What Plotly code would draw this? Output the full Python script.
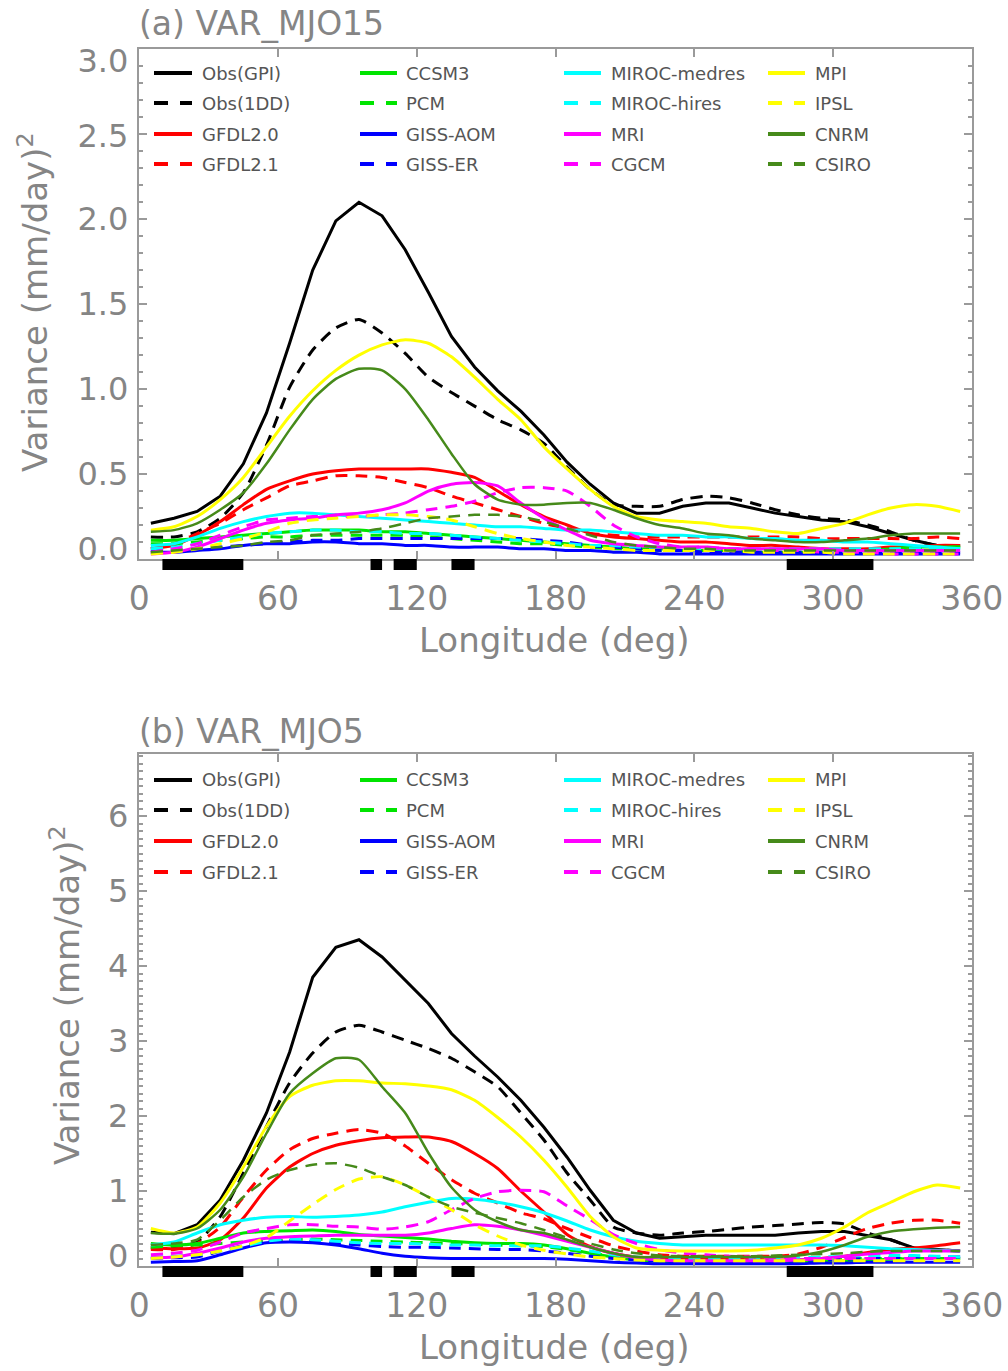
import plotly.graph_objects as go

# ---------------- data ----------------
lon = [5, 15, 25, 35, 45, 55, 65, 75, 85, 95, 105, 115, 125, 135, 145, 155, 165, 175,
       185, 195, 205, 215, 225, 235, 245, 255, 265, 275, 285, 295, 305, 315, 325, 335, 345, 355]

# land bands marked under the longitude axis (deg)
land_start = [10, 100, 110, 135, 280]
land_end = [45, 105, 120, 145, 317.5]

x_ticks = [0, 60, 120, 180, 240, 300, 360]

# (a) VAR_MJO15
a_obs_gpi = [0.21, 0.24, 0.28, 0.37, 0.56, 0.86, 1.27, 1.70, 1.99, 2.10, 2.02, 1.82, 1.57, 1.31, 1.13, 0.99, 0.87, 0.73,
             0.57, 0.44, 0.33, 0.27, 0.27, 0.31, 0.33, 0.33, 0.30, 0.27, 0.25, 0.23, 0.22, 0.19, 0.15, 0.11, 0.08, 0.08]
a_obs_1dd = [0.13, 0.13, 0.16, 0.24, 0.39, 0.67, 1.01, 1.23, 1.36, 1.41, 1.33, 1.21, 1.07, 0.98, 0.90, 0.82, 0.76, 0.68,
             0.54, 0.41, 0.32, 0.31, 0.31, 0.35, 0.37, 0.36, 0.33, 0.29, 0.26, 0.24, 0.23, 0.20, 0.16, 0.11, 0.08, 0.08]
a_gfdl20 = [0.06, 0.08, 0.14, 0.22, 0.32, 0.41, 0.46, 0.50, 0.52, 0.53, 0.53, 0.53, 0.53, 0.51, 0.48, 0.40, 0.32, 0.25,
            0.20, 0.15, 0.13, 0.12, 0.11, 0.10, 0.10, 0.09, 0.08, 0.08, 0.07, 0.06, 0.06, 0.06, 0.07, 0.07, 0.08, 0.08]
a_gfdl21 = [0.06, 0.09, 0.15, 0.21, 0.29, 0.36, 0.43, 0.46, 0.49, 0.49, 0.48, 0.45, 0.42, 0.37, 0.33, 0.29, 0.25, 0.21,
            0.18, 0.15, 0.14, 0.13, 0.13, 0.13, 0.13, 0.13, 0.13, 0.13, 0.13, 0.12, 0.12, 0.12, 0.12, 0.12, 0.13, 0.12]
a_ccsm3 = [0.11, 0.11, 0.12, 0.13, 0.14, 0.15, 0.16, 0.17, 0.17, 0.17, 0.16, 0.16, 0.15, 0.14, 0.13, 0.12, 0.11, 0.10,
           0.09, 0.08, 0.07, 0.06, 0.06, 0.05, 0.05, 0.05, 0.04, 0.04, 0.04, 0.04, 0.05, 0.05, 0.06, 0.07, 0.07, 0.07]
a_pcm = [0.09, 0.09, 0.10, 0.11, 0.12, 0.13, 0.13, 0.14, 0.14, 0.14, 0.14, 0.14, 0.13, 0.12, 0.11, 0.10, 0.09, 0.09,
         0.08, 0.07, 0.06, 0.06, 0.05, 0.05, 0.05, 0.04, 0.04, 0.04, 0.04, 0.04, 0.04, 0.04, 0.05, 0.06, 0.07, 0.07]
a_giss_aom = [0.04, 0.04, 0.05, 0.06, 0.08, 0.09, 0.09, 0.10, 0.10, 0.09, 0.09, 0.08, 0.08, 0.07, 0.07, 0.07, 0.06, 0.06,
              0.05, 0.05, 0.04, 0.04, 0.03, 0.03, 0.03, 0.03, 0.03, 0.03, 0.03, 0.03, 0.03, 0.03, 0.03, 0.03, 0.03, 0.03]
a_giss_er = [0.05, 0.05, 0.06, 0.07, 0.08, 0.09, 0.10, 0.11, 0.11, 0.12, 0.12, 0.12, 0.12, 0.12, 0.12, 0.12, 0.12, 0.11,
             0.10, 0.08, 0.07, 0.06, 0.05, 0.05, 0.04, 0.04, 0.04, 0.04, 0.04, 0.04, 0.04, 0.04, 0.04, 0.04, 0.04, 0.04]
a_miroc_med = [0.08, 0.09, 0.13, 0.18, 0.22, 0.25, 0.27, 0.27, 0.26, 0.25, 0.24, 0.23, 0.22, 0.21, 0.20, 0.19, 0.19, 0.18,
               0.17, 0.17, 0.16, 0.15, 0.14, 0.14, 0.13, 0.13, 0.12, 0.12, 0.11, 0.11, 0.10, 0.10, 0.09, 0.08, 0.07, 0.06]
a_miroc_hi = [0.06, 0.07, 0.09, 0.11, 0.13, 0.15, 0.16, 0.17, 0.17, 0.16, 0.16, 0.15, 0.15, 0.14, 0.13, 0.12, 0.11, 0.10,
              0.09, 0.08, 0.08, 0.07, 0.07, 0.07, 0.06, 0.06, 0.06, 0.06, 0.06, 0.06, 0.06, 0.06, 0.06, 0.06, 0.06, 0.06]
a_mri = [0.03, 0.04, 0.07, 0.12, 0.17, 0.21, 0.23, 0.24, 0.26, 0.27, 0.29, 0.33, 0.40, 0.44, 0.45, 0.43, 0.33, 0.24,
         0.17, 0.11, 0.09, 0.08, 0.07, 0.07, 0.07, 0.06, 0.06, 0.06, 0.06, 0.06, 0.05, 0.05, 0.05, 0.05, 0.05, 0.05]
a_cgcm = [0.04, 0.06, 0.09, 0.14, 0.19, 0.23, 0.24, 0.25, 0.25, 0.25, 0.26, 0.27, 0.29, 0.31, 0.34, 0.39, 0.42, 0.42,
          0.40, 0.31, 0.20, 0.13, 0.09, 0.07, 0.07, 0.06, 0.06, 0.05, 0.05, 0.04, 0.04, 0.04, 0.03, 0.03, 0.03, 0.03]
a_mpi = [0.17, 0.19, 0.25, 0.35, 0.48, 0.66, 0.84, 0.99, 1.11, 1.20, 1.26, 1.29, 1.27, 1.19, 1.07, 0.94, 0.82, 0.66,
         0.53, 0.41, 0.31, 0.25, 0.23, 0.22, 0.21, 0.19, 0.18, 0.16, 0.15, 0.18, 0.21, 0.26, 0.30, 0.32, 0.31, 0.28]
a_ipsl = [0.03, 0.04, 0.06, 0.09, 0.12, 0.16, 0.21, 0.23, 0.24, 0.25, 0.26, 0.26, 0.25, 0.23, 0.19, 0.15, 0.12, 0.10,
          0.08, 0.07, 0.06, 0.05, 0.05, 0.05, 0.05, 0.05, 0.04, 0.04, 0.04, 0.04, 0.03, 0.03, 0.03, 0.03, 0.03, 0.03]
a_cnrm = [0.16, 0.17, 0.21, 0.29, 0.39, 0.56, 0.76, 0.94, 1.06, 1.12, 1.11, 1.00, 0.82, 0.62, 0.44, 0.35, 0.32, 0.32,
          0.33, 0.33, 0.29, 0.24, 0.20, 0.18, 0.15, 0.14, 0.12, 0.11, 0.10, 0.10, 0.11, 0.12, 0.14, 0.15, 0.15, 0.15]
a_csiro = [0.04, 0.05, 0.06, 0.07, 0.08, 0.10, 0.11, 0.14, 0.15, 0.16, 0.18, 0.21, 0.24, 0.25, 0.26, 0.26, 0.25, 0.22,
           0.18, 0.14, 0.10, 0.08, 0.07, 0.06, 0.06, 0.05, 0.05, 0.05, 0.05, 0.05, 0.05, 0.05, 0.05, 0.05, 0.05, 0.05]

# (b) VAR_MJO5
b_obs_gpi = [0.45, 0.43, 0.55, 0.88, 1.41, 2.04, 2.85, 3.85, 4.25, 4.35, 4.12, 3.81, 3.50, 3.10, 2.80, 2.52, 2.21, 1.85,
             1.45, 1.01, 0.61, 0.44, 0.37, 0.39, 0.41, 0.41, 0.41, 0.41, 0.44, 0.46, 0.46, 0.41, 0.35, 0.24, 0.22, 0.20]
b_obs_1dd = [0.25, 0.25, 0.32, 0.66, 1.24, 1.86, 2.44, 2.84, 3.12, 3.21, 3.12, 3.01, 2.90, 2.77, 2.59, 2.39, 2.04, 1.68,
             1.24, 0.88, 0.52, 0.44, 0.41, 0.44, 0.46, 0.49, 0.52, 0.54, 0.56, 0.58, 0.56, 0.44, 0.35, 0.24, 0.22, 0.20]
b_gfdl20 = [0.24, 0.23, 0.24, 0.35, 0.64, 1.04, 1.32, 1.50, 1.61, 1.67, 1.71, 1.72, 1.72, 1.66, 1.50, 1.30, 1.00, 0.72,
            0.42, 0.26, 0.17, 0.12, 0.11, 0.10, 0.10, 0.09, 0.09, 0.08, 0.08, 0.10, 0.13, 0.18, 0.22, 0.24, 0.27, 0.31]
b_gfdl21 = [0.22, 0.22, 0.30, 0.52, 0.92, 1.28, 1.55, 1.70, 1.77, 1.82, 1.77, 1.60, 1.37, 1.15, 0.97, 0.84, 0.71, 0.63,
            0.50, 0.38, 0.27, 0.20, 0.15, 0.13, 0.13, 0.13, 0.13, 0.13, 0.16, 0.25, 0.38, 0.50, 0.57, 0.61, 0.61, 0.57]
b_ccsm3 = [0.30, 0.28, 0.30, 0.37, 0.44, 0.46, 0.47, 0.48, 0.46, 0.42, 0.40, 0.38, 0.36, 0.33, 0.31, 0.30, 0.30, 0.28,
           0.23, 0.17, 0.12, 0.08, 0.06, 0.05, 0.05, 0.05, 0.05, 0.05, 0.05, 0.06, 0.07, 0.08, 0.09, 0.10, 0.10, 0.10]
b_pcm = [0.25, 0.27, 0.28, 0.30, 0.32, 0.33, 0.35, 0.36, 0.35, 0.34, 0.33, 0.32, 0.31, 0.30, 0.29, 0.28, 0.27, 0.26,
         0.22, 0.17, 0.13, 0.10, 0.08, 0.07, 0.07, 0.07, 0.07, 0.07, 0.08, 0.09, 0.10, 0.10, 0.10, 0.10, 0.10, 0.10]
b_giss_aom = [0.05, 0.06, 0.07, 0.15, 0.24, 0.31, 0.32, 0.31, 0.28, 0.23, 0.17, 0.13, 0.11, 0.10, 0.10, 0.10, 0.10, 0.10,
              0.09, 0.07, 0.05, 0.04, 0.03, 0.03, 0.03, 0.03, 0.03, 0.03, 0.03, 0.04, 0.04, 0.05, 0.05, 0.05, 0.05, 0.05]
b_giss_er = [0.10, 0.11, 0.12, 0.20, 0.27, 0.33, 0.34, 0.32, 0.30, 0.28, 0.26, 0.25, 0.25, 0.24, 0.23, 0.22, 0.22, 0.20,
             0.17, 0.13, 0.10, 0.08, 0.07, 0.06, 0.06, 0.06, 0.06, 0.06, 0.07, 0.08, 0.09, 0.10, 0.11, 0.12, 0.12, 0.12]
b_miroc_med = [0.28, 0.32, 0.44, 0.55, 0.61, 0.65, 0.66, 0.65, 0.66, 0.68, 0.72, 0.79, 0.85, 0.90, 0.89, 0.85, 0.79, 0.71,
               0.60, 0.48, 0.39, 0.33, 0.30, 0.28, 0.28, 0.28, 0.28, 0.28, 0.28, 0.28, 0.27, 0.25, 0.23, 0.22, 0.21, 0.20]
b_miroc_hi = [0.12, 0.13, 0.15, 0.20, 0.26, 0.33, 0.36, 0.35, 0.33, 0.31, 0.30, 0.30, 0.29, 0.28, 0.28, 0.27, 0.27, 0.27,
              0.24, 0.20, 0.15, 0.12, 0.11, 0.10, 0.10, 0.10, 0.10, 0.10, 0.11, 0.12, 0.13, 0.14, 0.14, 0.14, 0.13, 0.12]
b_mri = [0.11, 0.12, 0.17, 0.24, 0.32, 0.37, 0.39, 0.40, 0.41, 0.41, 0.41, 0.41, 0.44, 0.50, 0.55, 0.53, 0.48, 0.41,
         0.33, 0.25, 0.17, 0.11, 0.08, 0.07, 0.07, 0.07, 0.07, 0.07, 0.08, 0.10, 0.13, 0.16, 0.18, 0.20, 0.20, 0.20]
b_cgcm = [0.15, 0.17, 0.21, 0.32, 0.44, 0.50, 0.55, 0.55, 0.53, 0.52, 0.49, 0.52, 0.59, 0.75, 0.90, 0.99, 1.01, 0.99,
          0.80, 0.62, 0.42, 0.30, 0.22, 0.17, 0.15, 0.13, 0.12, 0.11, 0.10, 0.10, 0.10, 0.10, 0.10, 0.10, 0.10, 0.10]
b_mpi = [0.50, 0.44, 0.52, 0.84, 1.32, 1.86, 2.26, 2.41, 2.47, 2.47, 2.44, 2.43, 2.40, 2.35, 2.21, 1.98, 1.72, 1.41,
         1.05, 0.66, 0.39, 0.24, 0.21, 0.20, 0.20, 0.20, 0.21, 0.24, 0.28, 0.37, 0.52, 0.71, 0.85, 0.99, 1.08, 1.04]
b_ipsl = [0.10, 0.12, 0.15, 0.20, 0.27, 0.38, 0.60, 0.82, 1.02, 1.16, 1.19, 1.08, 0.92, 0.75, 0.55, 0.40, 0.28, 0.21,
          0.16, 0.12, 0.10, 0.08, 0.07, 0.07, 0.07, 0.07, 0.07, 0.07, 0.07, 0.07, 0.07, 0.07, 0.07, 0.07, 0.07, 0.07]
b_cnrm = [0.44, 0.43, 0.50, 0.75, 1.19, 1.77, 2.30, 2.57, 2.77, 2.75, 2.39, 2.04, 1.51, 1.05, 0.75, 0.59, 0.48, 0.44,
          0.35, 0.25, 0.17, 0.12, 0.12, 0.12, 0.12, 0.12, 0.12, 0.12, 0.14, 0.19, 0.28, 0.39, 0.46, 0.49, 0.51, 0.52]
b_csiro = [0.28, 0.30, 0.35, 0.61, 0.92, 1.15, 1.28, 1.35, 1.37, 1.31, 1.19, 1.08, 0.92, 0.79, 0.71, 0.64, 0.57, 0.48,
           0.38, 0.30, 0.22, 0.17, 0.14, 0.13, 0.13, 0.13, 0.13, 0.14, 0.15, 0.16, 0.17, 0.19, 0.20, 0.20, 0.20, 0.20]

series_names = ["Obs(GPI)", "Obs(1DD)", "GFDL2.0", "GFDL2.1",
                "CCSM3", "PCM", "GISS-AOM", "GISS-ER",
                "MIROC-medres", "MIROC-hires", "MRI", "CGCM",
                "MPI", "IPSL", "CNRM", "CSIRO"]
panel_a = [a_obs_gpi, a_obs_1dd, a_gfdl20, a_gfdl21, a_ccsm3, a_pcm, a_giss_aom, a_giss_er,
           a_miroc_med, a_miroc_hi, a_mri, a_cgcm, a_mpi, a_ipsl, a_cnrm, a_csiro]
panel_b = [b_obs_gpi, b_obs_1dd, b_gfdl20, b_gfdl21, b_ccsm3, b_pcm, b_giss_aom, b_giss_er,
           b_miroc_med, b_miroc_hi, b_mri, b_cgcm, b_mpi, b_ipsl, b_cnrm, b_csiro]

# ---------------- styling ----------------
W, H = 1008, 1371
GREEN = "#00e400"
DKGREEN = "#468a1a"
colors = ["#000000", "#000000", "#ff0000", "#ff0000",
          GREEN, GREEN, "#0000ff", "#0000ff",
          "#00ffff", "#00ffff", "#ff00ff", "#ff00ff",
          "#ffff00", "#ffff00", DKGREEN, DKGREEN]
DASH = "12px,8px"
dashes = ["solid", DASH] * 8
widths = [3, 3, 3, 3, 3, 3, 3, 3, 3, 3, 3, 3, 3, 3, 2.5, 2.5]

FONT = "DejaVu Sans"
TXT = "#858585"
AXC = "#9a9a9a"


def px(xpix):
    return xpix / W


def py(ypix):
    return 1 - ypix / H


X0, X1 = 139.3, 971.7
A_TOP, A_BOT = 49.3, 559.0
B_TOP, B_BOT = 754.0, 1266.0
B_YMAX = (B_BOT - B_TOP) / 75.0

fig = go.Figure()

for ax_x, ax_y, data in (("x", "y", panel_a), ("x2", "y2", panel_b)):
    for i, vals in enumerate(data):
        fig.add_trace(go.Scatter(
            x=lon, y=vals, mode="lines", name=series_names[i], showlegend=False,
            xaxis=ax_x, yaxis=ax_y, hoverinfo="skip",
            line=dict(color=colors[i], width=widths[i], dash=dashes[i],
                      shape="linear" if i == 0 else "spline", smoothing=0.6),
        ))

xaxis_common = dict(range=[0, 360], tickvals=x_ticks, ticktext=[str(v) for v in x_ticks],
                    showline=True, linecolor=AXC, linewidth=2, mirror="ticks",
                    ticks="inside", ticklen=8, tickwidth=1.5, tickcolor=AXC,
                    showgrid=False, zeroline=False, automargin=False,
                    tickfont=dict(family=FONT, size=33, color=TXT),
                    ticklabelstandoff=9, domain=[px(X0), px(X1)])
yaxis_common = dict(showline=True, linecolor=AXC, linewidth=2, mirror="ticks",
                    ticks="inside", ticklen=8, tickwidth=1.5, tickcolor=AXC,
                    showgrid=False, zeroline=False, showticklabels=False, automargin=False)
label_axis = dict(showline=False, ticks="", showgrid=False, zeroline=False, side="left",
                  automargin=False,
                  tickfont=dict(family=FONT, size=32, color=TXT), ticklabelstandoff=10)

a_labels = ["0.0", "0.5", "1.0", "1.5", "2.0", "2.5", "3.0"]
a_label_pos = [0.06, 0.5, 1.0, 1.5, 2.0, 2.49, 2.93]
b_labels = ["0", "1", "2", "3", "4", "5", "6"]
b_label_pos = [0.13, 1, 2, 3, 4, 5, 6]

fig.update_layout(
    width=W, height=H, margin=dict(l=0, r=0, t=0, b=0, autoexpand=False),
    paper_bgcolor="white", plot_bgcolor="white", showlegend=False,
    xaxis=dict(**xaxis_common, anchor="y"),
    xaxis2=dict(**xaxis_common, anchor="y2"),
    yaxis=dict(**yaxis_common, anchor="x", range=[0, 3.0], dtick=0.5,
               minor=dict(dtick=0.1, ticklen=4, ticks="inside", tickcolor=AXC),
               domain=[py(A_BOT), py(A_TOP)]),
    yaxis2=dict(**yaxis_common, anchor="x2", range=[0, B_YMAX], dtick=1,
                minor=dict(dtick=0.1, ticklen=4, ticks="inside", tickcolor=AXC),
                domain=[py(B_BOT), py(B_TOP)]),
    yaxis3=dict(**label_axis, overlaying="y", anchor="x", range=[0, 3.0],
                tickvals=a_label_pos, ticktext=a_labels),
    yaxis4=dict(**label_axis, overlaying="y2", anchor="x2", range=[0, B_YMAX],
                tickvals=b_label_pos, ticktext=b_labels),
)

# empty traces bind the label-only axes
fig.add_trace(go.Scatter(x=[None], y=[None], xaxis="x", yaxis="y3", showlegend=False))
fig.add_trace(go.Scatter(x=[None], y=[None], xaxis="x2", yaxis="y4", showlegend=False))

# land bands below each longitude axis
shapes = []
for ax_x, ytop in (("x", A_BOT), ("x2", B_BOT)):
    for s, e in zip(land_start, land_end):
        shapes.append(dict(type="rect", xref=ax_x, yref="paper", x0=s, x1=e,
                           y0=py(ytop + 11), y1=py(ytop), fillcolor="black",
                           line=dict(width=0), layer="above"))

# legend block: 4 columns x 4 rows
annotations = []
col_line = [(154, 192), (360, 397), (564, 601), (768, 805)]
col_text = [200, 404, 609, 813]
for rows in ([73, 103, 134, 164], [780, 810, 841, 872]):
    for i, name in enumerate(series_names):
        c, r = divmod(i, 4)
        yy = py(rows[r])
        shapes.append(dict(type="line", xref="paper", yref="paper",
                           x0=px(col_line[c][0]), x1=px(col_line[c][1]), y0=yy, y1=yy,
                           line=dict(color=colors[i], width=4,
                                     dash="solid" if i % 2 == 0 else "14px,12px")))
        annotations.append(dict(xref="paper", yref="paper", x=px(col_text[c]), y=yy,
                                text=name, showarrow=False, xanchor="left", yanchor="middle",
                                font=dict(family=FONT, size=18, color="#555555")))

# panel titles
for txt, yc in (("(a) VAR_MJO15", 23), ("(b) VAR_MJO5", 731)):
    annotations.append(dict(xref="paper", yref="paper", x=px(137), y=py(yc), text=txt,
                            showarrow=False, xanchor="left", yanchor="middle",
                            font=dict(family=FONT, size=33, color=TXT)))

# axis titles
for yc in (640, 1347):
    annotations.append(dict(xref="paper", yref="paper", x=px(554), y=py(yc),
                            text="Longitude (deg)", showarrow=False,
                            xanchor="center", yanchor="middle",
                            font=dict(family=FONT, size=34, color=TXT)))
for xc, yc in ((33, 302), (65, 995)):
    annotations.append(dict(xref="paper", yref="paper", x=px(xc), y=py(yc),
                            text="Variance (mm/day)<sup>2</sup>", showarrow=False,
                            textangle=-90, xanchor="center", yanchor="middle",
                            font=dict(family=FONT, size=34, color=TXT)))

fig.update_layout(shapes=shapes, annotations=annotations)
fig.write_html("out.html")
